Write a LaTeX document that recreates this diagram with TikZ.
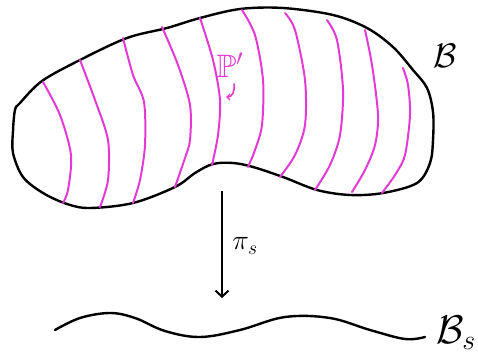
\RequirePackage{fix-cm}
\documentclass[tikz,border=0pt]{standalone}
\usepackage{amssymb}
\usetikzlibrary{arrows.meta}
\definecolor{fib}{RGB}{228,58,212}
\tikzset{
  outline/.style={line width=2.4pt, line cap=round, line join=round},
  fibre/.style={draw=fib, line width=2pt, line cap=round},
  proj/.style={line width=2pt, -{Straight Barb[length=6pt,width=13pt,line width=2pt]}},
  bigletter/.style={inner sep=0pt}
}
\begin{document}
\begin{tikzpicture}[x=1pt,y=-1pt]
\useasboundingbox (0,0) rectangle (478,363);
% blob B
\draw[outline] plot[smooth cycle, tension=0.55] coordinates {
 (15,110) (20,103) (42,81) (80,60) (127,38) (167,28) (200,18) (240,9) (283,8)
 (333,15) (367,28) (393,47) (413,70) (427,88) (433,112) (433,140) (430,163)
 (417,183) (383,193) (350,195) (317,190) (283,177) (253,167) (233,163)
 (213,164) (195,173) (175,187) (133,203) (90,208) (67,204) (43,193)
 (23,177) (13,153) (13,131)};
% fibres
\draw[fibre] plot[smooth] coordinates {(43,82) (60,115) (71,155) (68,190) (63,203)};
\draw[fibre] plot[smooth] coordinates {(80,60) (95,100) (108,140) (108,180) (100,207)};
\draw[fibre] plot[smooth] coordinates {(123,38) (133,75) (144,102) (145,145) (140,180) (133,203)};
\draw[fibre] plot[smooth] coordinates {(162,27) (178,65) (190,105) (190,140) (185,158) (175,187)};
\draw[fibre] plot[smooth] coordinates {(200,18) (213,60) (220,100) (218,135) (212,165)};
\draw[fibre] plot[smooth] coordinates {(242,10) (255,35) (263,80) (262,125) (255,150) (248,167)};
\draw[fibre] plot[smooth] coordinates {(285,13) (295,30) (305,80) (305,125) (295,155) (280,177)};
\draw[fibre] plot[smooth] coordinates {(327,20) (337,40) (343,90) (340,135) (330,165) (315,190)};
\draw[fibre] plot[smooth] coordinates {(365,30) (372,65) (378,115) (375,145) (365,170) (352,192)};
\draw[fibre] plot[smooth] coordinates {(403,68) (408,85) (410,115) (405,155) (395,175) (382,193)};
% P' label and hook arrow
\node[text=fib, inner sep=0pt, font=\fontsize{24}{24}\selectfont] (plabel) at (230,65) {\scalebox{1.35}{$\mathbb{P}'$}};
\coordinate (h1) at (234,84);
\coordinate (h2) at (226,97);
\draw[fibre, line width=1.6pt, -{Straight Barb[length=3pt,width=6pt,line width=1.4pt]}] (h1) .. controls (235,92) and (232,97) .. (h2);
% base
\draw[outline] plot[smooth, tension=0.6] coordinates {
 (55,330) (80,318) (110,313) (135,318) (165,331) (200,337) (240,330) (285,317)
 (330,318) (370,330) (405,339) (425,337)};
% projection arrow
\coordinate (a1) at (222,191);
\coordinate (a2) at (222,298);
\draw[proj] (a1) -- (a2);
\node[inner sep=0pt, font=\fontsize{28}{28}\selectfont] (pi) at (245,246) {$\pi_s$};
% labels
\node[bigletter, font=\fontsize{34}{34}\selectfont] (B) at (445,56) {$\mathcal{B}$};
\node[bigletter, anchor=east, font=\fontsize{40}{40}\selectfont] (Bs) at (476,333) {$\mathcal{B}_s$};
\end{tikzpicture}
\end{document}
